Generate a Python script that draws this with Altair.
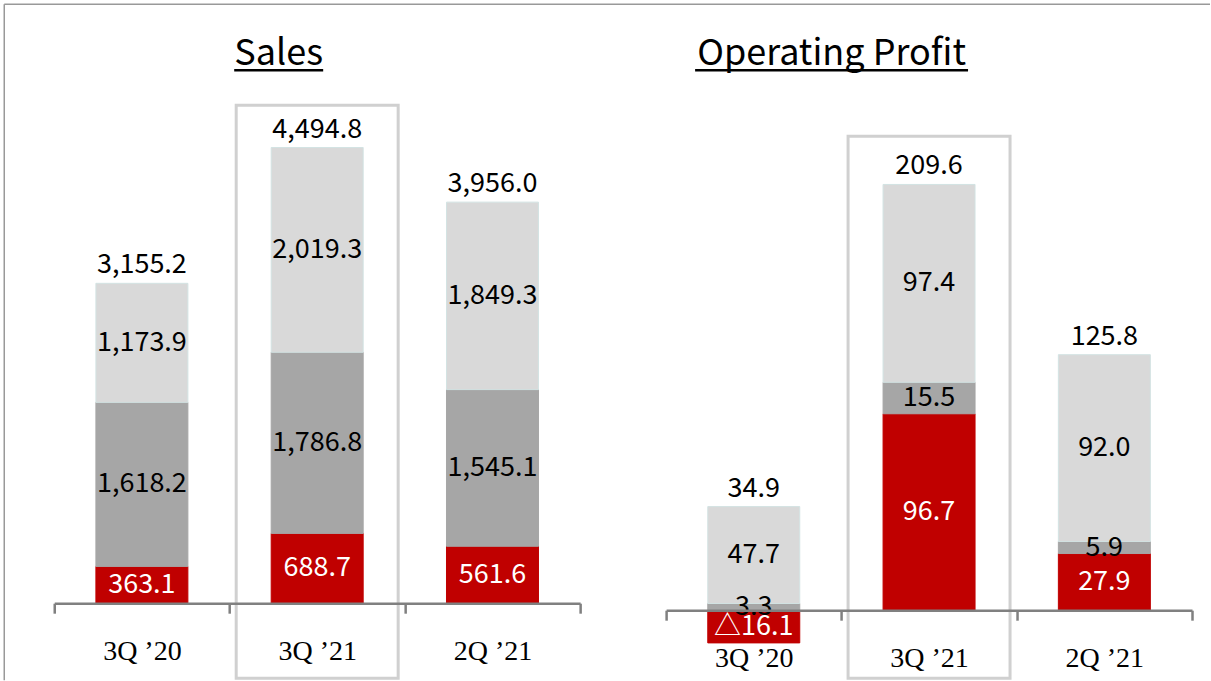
import altair as alt
import pandas as pd

# ---------------- data ----------------
quarters = ["3Q ’20", "3Q ’21", "2Q ’21"]
highlight = "3Q ’21"
segments = ["Segment A", "Segment B", "Segment C"]   # bottom (red), middle (dark grey), top (light grey)

sales_a = [363.1, 688.7, 561.6]
sales_b = [1618.2, 1786.8, 1545.1]
sales_c = [1173.9, 2019.3, 1849.3]

op_a = [-16.1, 96.7, 27.9]
op_b = [3.3, 15.5, 5.9]
op_c = [47.7, 97.4, 92.0]

fill_colors = ["#C00000", "#A6A6A6", "#D9D9D9"]
stroke_colors = ["#C00000", "#A6A6A6", "#D3E3E3"]


def long_df(a, b, c):
    rows = []
    for k, (seg, vals) in enumerate(zip(segments, [a, b, c])):
        for q, v in zip(quarters, vals):
            rows.append({"quarter": q, "segment": seg, "k": k, "value": v})
    return pd.DataFrame(rows)


sales_df = long_df(sales_a, sales_b, sales_c)
op_df = long_df(op_a, op_b, op_c)

NUM_FONT = "Noto Sans CJK KR"
AXIS_FONT = "Liberation Serif"


def panel(df, title, ydomain, height, box_top, title_cx, ul_x1, ul_x2, frame=False):
    xenc = alt.X(
        "quarter:N",
        sort=quarters,
        scale=alt.Scale(domain=quarters, paddingInner=0, paddingOuter=0),
        axis=alt.Axis(
            title=None, orient="bottom", labelAngle=0,
            domainColor="#808080", domainWidth=2.5,
            tickColor="#808080", tickWidth=2.5, tickSize=10, tickBand="extent",
            labelFont=AXIS_FONT, labelFontSize=28, labelColor="#000000",
            labelPadding=46, labelBaseline="alphabetic", zindex=1,
        ),
    )
    yscale = alt.Scale(domain=ydomain, nice=False, zero=False)

    box = alt.Chart(pd.DataFrame({"quarter": [highlight]})).mark_bar(
        size=162, fillOpacity=0, stroke="#D0D0D0", strokeWidth=3
    ).encode(x=xenc, y=alt.value(box_top), y2=alt.value(582))

    bars = alt.Chart(df).mark_bar(size=92, strokeWidth=1).encode(
        x=xenc,
        y=alt.Y("value:Q", stack="zero", scale=yscale, axis=None),
        color=alt.Color("segment:N", scale=alt.Scale(domain=segments, range=fill_colors), legend=None),
        stroke=alt.Stroke("segment:N", scale=alt.Scale(domain=segments, range=stroke_colors), legend=None),
        order=alt.Order("k:Q", sort="ascending"),
    )

    seg_labels = alt.Chart(df).transform_stack(
        stack="value", groupby=["quarter"], as_=["y0", "y1"],
        sort=[alt.SortField("k", order="ascending")], offset="zero",
    ).transform_calculate(
        mid="(datum.y0 + datum.y1) / 2",
        label="datum.value < 0 ? '△' + format(-datum.value, ',.1f') : format(datum.value, ',.1f')",
    ).mark_text(font=NUM_FONT, fontSize=27, baseline="middle").encode(
        x=xenc,
        y=alt.Y("mid:Q", scale=yscale, axis=None),
        text="label:N",
        color=alt.condition("datum.k == 0", alt.value("#FFFFFF"), alt.value("#000000")),
    )

    totals = alt.Chart(df).transform_calculate(
        pos="max(datum.value, 0)"
    ).transform_aggregate(
        total="sum(value)", top="sum(pos)", groupby=["quarter"]
    ).transform_calculate(
        label="format(datum.total, ',.1f')"
    ).mark_text(font=NUM_FONT, fontSize=27, baseline="alphabetic", dy=-10, color="#000000").encode(
        x=xenc,
        y=alt.Y("top:Q", scale=yscale, axis=None),
        text="label:N",
    )

    tdf = pd.DataFrame({"t": [title]})
    title_txt = alt.Chart(tdf).mark_text(
        font=NUM_FONT, fontSize=36, baseline="alphabetic", align="center", color="#000000"
    ).encode(text="t:N", x=alt.value(title_cx), y=alt.value(-31))
    underline = alt.Chart(tdf).mark_rule(color="#000000", strokeWidth=2.5).encode(
        x=alt.value(ul_x1), x2=alt.value(ul_x2), y=alt.value(-26)
    )

    layers = [box, bars, seg_labels, totals, title_txt, underline]
    if frame:
        fdf = pd.DataFrame({"f": [0]})
        top_line = alt.Chart(fdf).mark_rule(color="#999999", strokeWidth=1.5).encode(
            x=alt.value(-50), x2=alt.value(1156), y=alt.value(-92)
        )
        left_line = alt.Chart(fdf).mark_rule(color="#999999", strokeWidth=1.5).encode(
            x=alt.value(-50), y=alt.value(-92), y2=alt.value(584)
        )
        layers += [top_line, left_line]
    return alt.layer(*layers).properties(width=526, height=height)


sales = panel(sales_df, "Sales", [0, 5000], 507, 9, 224.5, 180, 269, frame=True)
op = panel(op_df, "Operating Profit", [0, 253], 514, 40, 165.5, 29, 302)

chart = alt.hconcat(sales, op, spacing=86, bounds="flush").properties(
    padding={"left": 3.25, "top": 3.25, "right": 0, "bottom": 0},
    background="#FFFFFF",
).configure_view(strokeWidth=0)

chart.save("out.html", embed_options={"renderer": "svg", "actions": False})
